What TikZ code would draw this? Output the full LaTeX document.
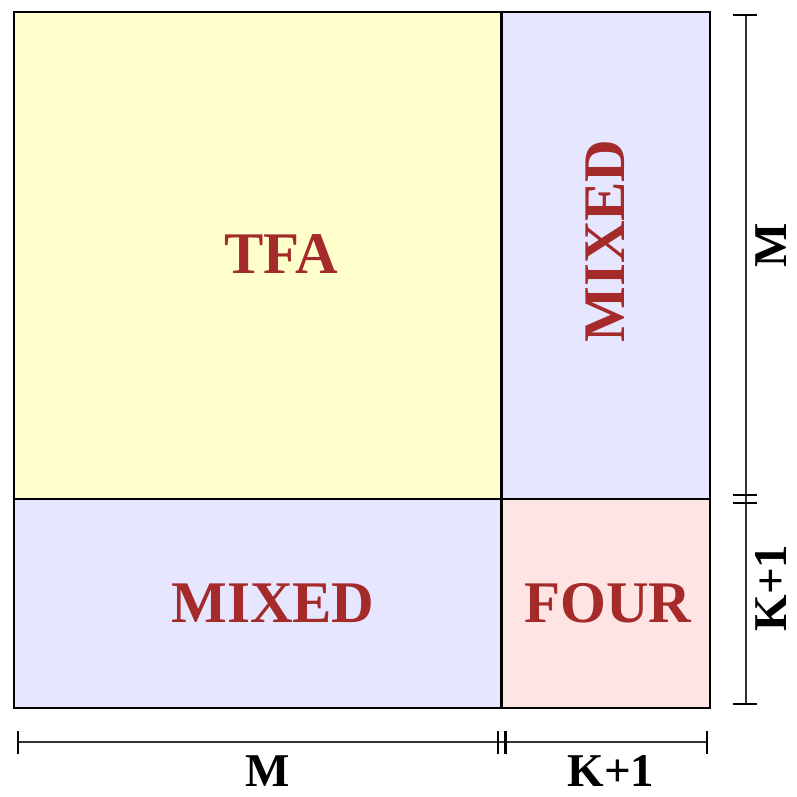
\documentclass[tikz,border=0pt]{standalone}
\usepackage{fontspec}
\setmainfont{Liberation Serif}
\definecolor{cyellow}{HTML}{FFFFCC}
\definecolor{clav}{HTML}{E6E6FF}
\definecolor{cpink}{HTML}{FFE4E4}
\definecolor{cred}{HTML}{A52A2A}
\begin{document}
\begin{tikzpicture}[x=1pt,y=-1pt,
  region/.style={draw=black,line width=2.6pt},
  big/.style={text=cred,font=\fontsize{59}{61}\selectfont\bfseries,inner sep=0pt},
  dimlabel/.style={text=black,font=\fontsize{47}{49}\selectfont\bfseries,inner sep=0pt},
  rotlabel/.style={dimlabel,rotate=90},
  dimline/.style={draw=black!80,line width=2pt},
  tick/.style={draw=black,line width=2.8pt}]
\useasboundingbox (0,0) rectangle (797,796);
% regions
\path[region,fill=cyellow] (14,12) rectangle (501.5,499);
\path[region,fill=clav] (501.5,12) rectangle (710,499);
\path[region,fill=clav] (14,499) rectangle (501.5,708);
\path[region,fill=cpink] (501.5,499) rectangle (710,708);
\draw[line width=2.6pt] (14,12) rectangle (710,708);
% texts
\node[big] (tfa) at (281,254) {TFA};
\node[big,rotate=90] (mixr) at (605,241) {MIXED};
\node[big] (mixb) at (273,603) {MIXED};
\node[big] (four) at (608,603) {FOUR};
% right dimension
\coordinate (r1) at (745.5,15);
\coordinate (r2) at (745.5,704);
\draw[dimline] (r1) -- (r2);
\draw[tick] (733,15) -- (757,15);
\draw[tick] (733,495) -- (757,495);
\draw[tick] (733,503) -- (757,503);
\draw[tick] (733,704) -- (757,704);
\node[rotlabel] (rm) at (771,245) {M};
\node[rotlabel] (rk) at (771,588) {K+1};
% bottom dimension
\coordinate (b1) at (18,742);
\coordinate (b2) at (707,742);
\draw[dimline] (b1) -- (b2);
\draw[tick] (18,731) -- (18,754);
\draw[tick] (498,731) -- (498,754);
\draw[tick] (505.5,731) -- (505.5,754);
\draw[tick] (707,731) -- (707,754);
\node[dimlabel] (bm) at (268,771) {M};
\node[dimlabel] (bk) at (611,771) {K+1};
\end{tikzpicture}
\end{document}
